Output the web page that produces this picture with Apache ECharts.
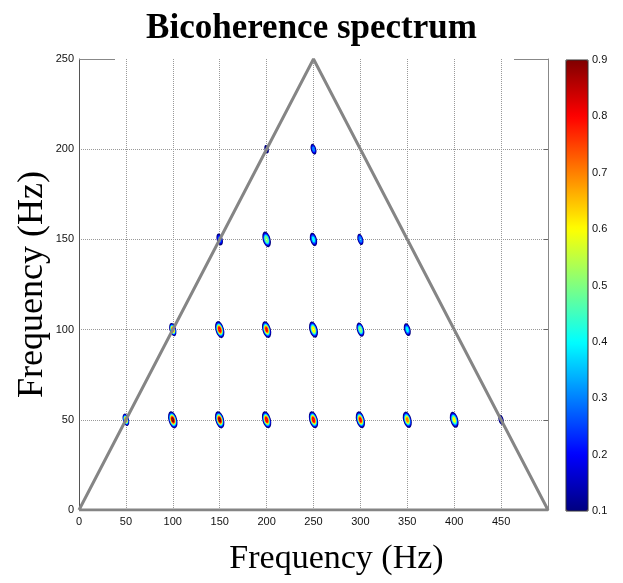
<!DOCTYPE html>
<html>
<head>
<meta charset="utf-8">
<script src="https://cdn.jsdelivr.net/npm/echarts@6/dist/echarts.min.js"></script>
<style>html,body{margin:0;padding:0;background:#fff}#c{width:623px;height:583px}</style>
</head>
<body>
<div id="c"></div>
<script>
// ---- data ----
var titleText = 'Bicoherence spectrum';
var xName = 'Frequency (Hz)';
var yName = 'Frequency (Hz)';
var xTicks = [0, 50, 100, 150, 200, 250, 300, 350, 400, 450];
var yTicks = [0, 50, 100, 150, 200, 250];
var colorTicks = [0.1, 0.2, 0.3, 0.4, 0.5, 0.6, 0.7, 0.8, 0.9];
var contourLevels = [0.1, 0.2, 0.3, 0.4, 0.5, 0.6, 0.7, 0.8, 0.9];
// bicoherence peaks: f1, f2, peak value, relative spread
var peakF1 =     [50,  100, 150, 200, 250, 300, 350, 400, 450,  100, 150, 200, 250, 300, 350,  150, 200, 250, 300,  200, 250];
var peakF2 =     [50,  50,  50,  50,  50,  50,  50,  50,  50,   100, 100, 100, 100, 100, 100,  150, 150, 150, 150,  200, 200];
var peakValue =  [0.75,0.95,0.95,0.9, 0.9, 0.85,0.75,0.65,0.25, 0.8, 0.9, 0.85,0.7, 0.6, 0.45, 0.35,0.6, 0.45,0.4,  0.2, 0.35];
var peakSpread = [0.7, 1,   1,   1,   1,   1,   1,   1,   0.8,  0.75,1,   1,   1,   0.9, 0.85, 0.85,1,   0.9, 0.75, 0.7, 0.75];
// principal domain boundary (triangle)
var boundaryX = [0, 250, 500, 0];
var boundaryY = [0, 250, 0, 0];
var jet = ['#000080','#0000ff','#0080ff','#00ffff','#80ff80','#ffff00','#ff8000','#ff0000','#800000'];

// ---- build ----
var rings = [];
for (var i = 0; i < peakF1.length; i++) {
  for (var k = 0; k < contourLevels.length; k++) {
    if (contourLevels[k] < peakValue[i]) {
      rings.push([peakF1[i], peakF2[i], contourLevels[k], peakValue[i], peakSpread[i]]);
    }
  }
}
var boundary = boundaryX.map(function (x, i) { return [x, boundaryY[i]]; });

var chart = echarts.init(document.getElementById('c'));
var labelFont = 'Liberation Sans';
chart.setOption({
  animation: false,
  backgroundColor: '#fff',
  title: {
    text: titleText, left: 'center', top: 6,
    textStyle: { fontFamily: 'Liberation Serif', fontWeight: 'bold', fontSize: 35, color: '#000' }
  },
  grid: [
    { left: 79, top: 59, width: 469, height: 451, show: false },
    { left: 566, top: 60, width: 22, height: 451, show: true, borderColor: '#333', borderWidth: 1, backgroundColor: 'transparent', z: 10 }
  ],
  xAxis: [
    {
      type: 'value', gridIndex: 0, min: 0, max: 500, interval: 50,
      name: xName, nameLocation: 'middle', nameGap: 32,
      nameTextStyle: { fontFamily: 'Liberation Serif', fontSize: 34, color: '#000', padding: [0, 0, 0, 46] },
      axisLine: { show: false }, axisTick: { show: false },
      axisLabel: { fontFamily: labelFont, fontSize: 11, color: '#111', margin: 6, showMaxLabel: false,
        formatter: function (v) { return xTicks.indexOf(v) >= 0 ? String(v) : ''; } },
      splitLine: { show: true, showMinLine: false, showMaxLine: false, lineStyle: { color: '#999', type: 'dotted', width: 1 } }
    },
    { type: 'value', gridIndex: 1, min: 0, max: 1, show: false }
  ],
  yAxis: [
    {
      type: 'value', gridIndex: 0, min: 0, max: 250, interval: 50,
      name: yName, nameLocation: 'middle', nameGap: 28, nameRotate: 90, nameMoveOverlap: false,
      nameTextStyle: { fontFamily: 'Liberation Serif', fontSize: 36, color: '#000' },
      axisLine: { show: true, lineStyle: { color: '#555', width: 1 } },
      axisTick: { show: false },
      axisLabel: { fontFamily: labelFont, fontSize: 11, color: '#111', margin: 5,
        formatter: function (v) { return yTicks.indexOf(v) >= 0 ? String(v) : ''; } },
      splitLine: { show: true, showMinLine: false, showMaxLine: false, lineStyle: { color: '#999', type: 'dotted', width: 1 } }
    },
    {
      type: 'value', gridIndex: 0, min: 0, max: 250, interval: 50, position: 'right',
      axisLine: { show: true, lineStyle: { color: '#888', width: 1 } },
      axisTick: { show: true, inside: true, length: 4, lineStyle: { color: '#666' } },
      axisLabel: { show: false }, splitLine: { show: false }
    },
    {
      type: 'value', gridIndex: 1, min: 0.1, max: 0.9, interval: 0.1, position: 'right',
      axisLine: { show: false }, axisTick: { show: false }, splitLine: { show: false },
      axisLabel: { fontFamily: labelFont, fontSize: 11, color: '#111', margin: 4,
        formatter: function (v) {
          var r = Math.round(v * 10) / 10;
          return colorTicks.indexOf(r) >= 0 ? r.toFixed(1) : '';
        } }
    }
  ],
  visualMap: {
    type: 'continuous', min: 0.1, max: 0.9, dimension: 2, seriesIndex: 0,
    show: true, calculable: false, left: 566, top: 60, padding: 0, itemWidth: 22, itemHeight: 451,
    text: null, showLabel: false, hoverLink: false, realtime: false,
    inRange: { color: jet }, outOfRange: { color: '#800000' }
  },
  series: [
    {
      type: 'scatter', xAxisIndex: 0, yAxisIndex: 0, data: rings, z: 3,
      symbol: 'emptyCircle', symbolRotate: 15,
      symbolSize: function (v) {
        var r = Math.sqrt(2 * Math.log(v[3] / v[2])) * v[4];
        return [3.4 * r, 7.0 * r];
      },
      itemStyle: { borderWidth: 1.1, opacity: 1 },
      emphasis: { disabled: true }, silent: true
    },
    {
      type: 'line', xAxisIndex: 0, yAxisIndex: 0, data: boundary, z: 4,
      symbol: 'none', lineStyle: { color: '#858585', width: 3 }, silent: true
    }
  ],
  graphic: [
    { type: 'line', shape: { x1: 79, y1: 59.5, x2: 115, y2: 59.5 }, style: { stroke: '#888', lineWidth: 1.2 }, z: 5 },
    { type: 'line', shape: { x1: 514, y1: 59.5, x2: 548, y2: 59.5 }, style: { stroke: '#888', lineWidth: 1.2 }, z: 5 }
  ]
});
</script>
</body>
</html>
